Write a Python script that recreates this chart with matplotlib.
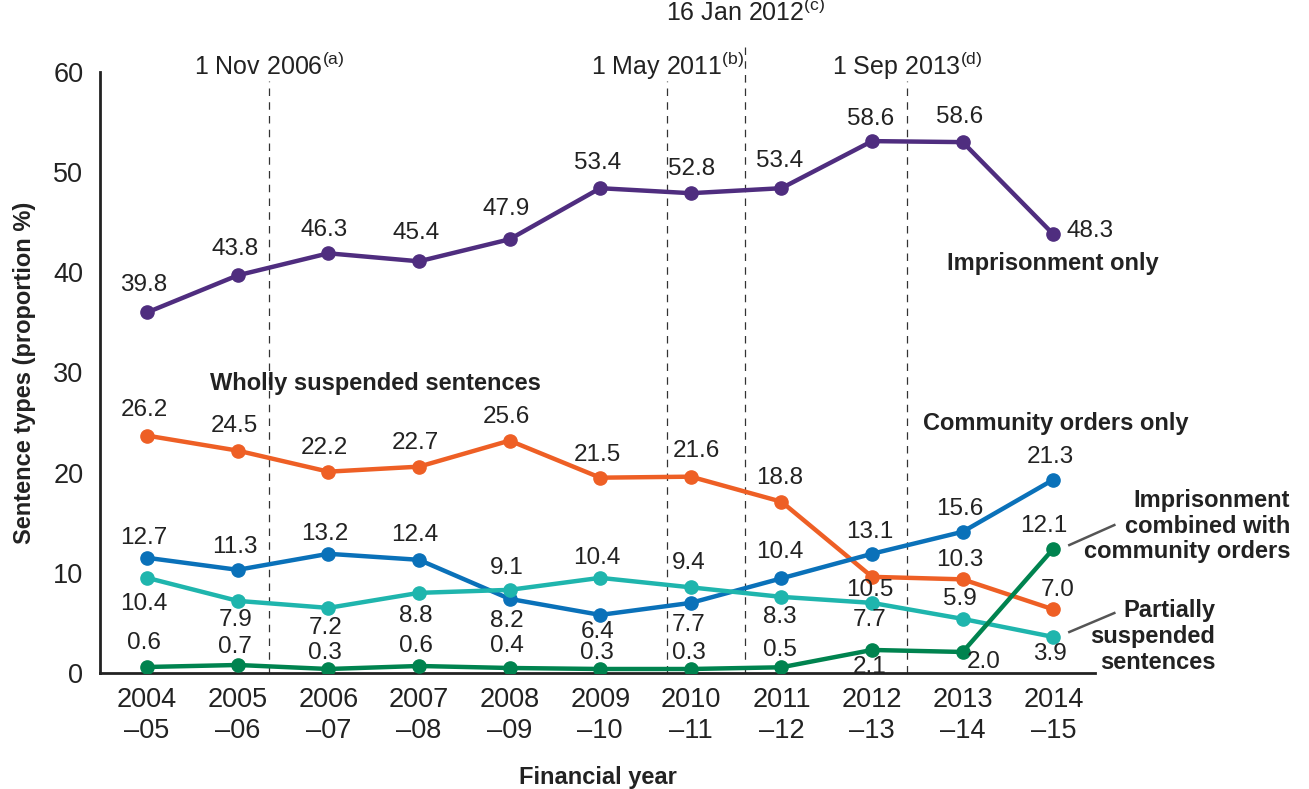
import matplotlib
matplotlib.use("Agg")
import matplotlib.pyplot as plt

plt.rcParams['font.family'] = ['Liberation Sans', 'DejaVu Sans']
plt.rcParams['mathtext.fontset'] = 'custom'
plt.rcParams['mathtext.rm'] = 'Liberation Sans'

years = ["2004\n\u201305", "2005\n\u201306", "2006\n\u201307", "2007\n\u201308", "2008\n\u201309",
         "2009\n\u201310", "2010\n\u201311", "2011\n\u201312", "2012\n\u201313", "2013\n\u201314",
         "2014\n\u201315"]

imprisonment = [36.0, 39.7, 41.9, 41.1, 43.3, 48.4, 47.9, 48.4, 53.1, 53.0, 43.8]
wholly = [23.7, 22.2, 20.1, 20.6, 23.2, 19.5, 19.6, 17.1, 9.6, 9.35, 6.35]
community = [11.5, 10.3, 11.9, 11.3, 7.4, 5.8, 7.0, 9.45, 11.9, 14.1, 19.3]
partial = [9.5, 7.2, 6.5, 8.0, 8.3, 9.5, 8.55, 7.6, 7.0, 5.4, 3.6]
combined = [0.6, 0.8, 0.4, 0.7, 0.5, 0.4, 0.4, 0.57, 2.3, 2.1, 12.4]

imprisonment_labels = ["39.8", "43.8", "46.3", "45.4", "47.9", "53.4", "52.8", "53.4", "58.6", "58.6", "48.3"]
wholly_labels = ["26.2", "24.5", "22.2", "22.7", "25.6", "21.5", "21.6", "18.8", "10.5", "10.3", "7.0"]
community_labels = ["12.7", "11.3", "13.2", "12.4", "8.2", "6.4", "7.7", "10.4", "13.1", "15.6", "21.3"]
partial_labels = ["10.4", "7.9", "7.2", "8.8", "9.1", "10.4", "9.4", "8.3", "7.7", "5.9", "3.9"]
combined_labels = ["0.6", "0.7", "0.3", "0.6", "0.4", "0.3", "0.3", "0.5", "2.1", "2.0", "12.1"]

events = ["1 Nov 2006$^{\\mathregular{(a)}}$", "1 May 2011$^{\\mathregular{(b)}}$",
          "16 Jan 2012$^{\\mathregular{(c)}}$", "1 Sep 2013$^{\\mathregular{(d)}}$"]
event_pos = [1.35, 5.74, 6.60, 8.39]

# label offsets in image pixels (dx, dy with dy positive downward)
off_imp = [(-3, -27), (-3, -26), (-4, -23), (-3, -28), (-3, -30), (-3, -25), (1, -24), (-2, -27), (-2, -22), (-3, -25), (39, -3)]
off_who = [(-3, -26), (-3, -25), (-4, -24), (-4, -24), (-3, -24), (-3, -23), (6, -26), (-2, -24), (-2, 13), (-3, -19), (4, -19)]
off_com = [(-3, -20), (-3, -23), (-4, -20), (-4, -25), (-3, 22), (-3, 17), (-2, 22), (-2, -26), (-2, -22), (-3, -23), (-3, -23)]
off_par = [(-3, 26), (-2, 19), (-3, 20), (-3, 23), (-3, -22), (-3, -20), (-2, -24), (-2, 20), (-2, 17), (-3, -20), (-3, 17)]
off_cmb = [(-3, -24), (-3, -18), (-3, -16), (-3, -20), (-3, -22), (-3, -16), (-2, -16), (-2, -17), (-2, 17), (21, 10), (-10, -23)]

c_imp = "#4F2D7F"
c_who = "#EE5F25"
c_com = "#0A71B9"
c_par = "#1FB5AD"
c_cmb = "#00834F"

W, H = 1309, 789
fig = plt.figure(figsize=(W / 100, H / 100), dpi=100)
ax = fig.add_axes([100 / W, 1 - 673 / H, (1095 - 100) / W, (673 - 72) / H])

x = list(range(len(years)))
series = [(imprisonment, imprisonment_labels, off_imp, c_imp),
          (wholly, wholly_labels, off_who, c_who),
          (community, community_labels, off_com, c_com),
          (partial, partial_labels, off_par, c_par),
          (combined, combined_labels, off_cmb, c_cmb)]

for xp in event_pos:
    ax.axvline(xp, ymin=0, ymax=0.985, color="#333333", lw=0.9, ls=(0, (6, 5)), zorder=1)

for vals, labs, offs, col in series:
    ax.plot(x, vals, color=col, lw=3.2, marker="o", ms=9.5, zorder=3, solid_capstyle="round")
    for xi, v, lab, (dx, dy) in zip(x, vals, labs, offs):
        ha = "left" if (lab == "48.3") else "center"
        ax.annotate(lab, (xi, v), xytext=(dx if ha == "center" else 13, -dy),
                    textcoords="offset pixels", ha=ha, va="center", fontsize=17.5, color="#222222", zorder=4)

# extended line for 16 Jan 2012
ax.plot([event_pos[2], event_pos[2]], [59, 62.7], color="#333333", lw=0.9, ls=(0, (6, 5)), clip_on=False)

for xp, txt in zip(event_pos, events):
    ytxt = 65.9 if txt.startswith("16") else 60.6
    ax.text(xp, ytxt, txt, ha="center", va="center", fontsize=18, color="#222222")

ax.set_xlim(-0.52, 10.46)
ax.set_ylim(0, 60)
ax.set_yticks([0, 10, 20, 30, 40, 50, 60])
ax.set_xticks(x)
ax.set_xticklabels(years, fontsize=19.5, color="#222222", linespacing=1.25)
ax.tick_params(axis="y", labelsize=19.5, labelcolor="#222222", length=0, pad=12)
ax.tick_params(axis="x", length=0, pad=10)
for s in ["top", "right"]:
    ax.spines[s].set_visible(False)
for s in ["left", "bottom"]:
    ax.spines[s].set_linewidth(2)
    ax.spines[s].set_color("#222222")

ax.set_ylabel("Sentence types (proportion %)", fontsize=17, fontweight="bold", color="#222222", labelpad=12)
ax.set_xlabel("Financial year", fontsize=17, fontweight="bold", color="#222222", labelpad=16)

bold = dict(fontsize=17, fontweight="bold", color="#222222")
ax.text(9.99, 40.9, "Imprisonment only", ha="center", va="center", **bold)
ax.text(2.52, 28.9, "Wholly suspended sentences", ha="center", va="center", **bold)
ax.text(10.03, 24.9, "Community orders only", ha="center", va="center", **bold)
ax.text((1290 - 147) / 90.6, 14.65, "Imprisonment\ncombined with\ncommunity orders",
        ha="right", va="center", linespacing=1.15, clip_on=False, **bold)
ax.text((1215 - 147) / 90.6, 3.65, "Partially\nsuspended\nsentences",
        ha="right", va="center", linespacing=1.15, clip_on=False, **bold)

# leader lines
def px2d(px, py):
    return ((px - 147) / 90.6, (673 - py) / 10.02)

for p0, p1 in [((1069, 545), (1114, 525)), ((1069, 632), (1114, 613))]:
    a = px2d(*p0); b = px2d(*p1)
    ax.plot([a[0], b[0]], [a[1], b[1]], color="#555555", lw=1.8, clip_on=False)

fig.savefig("out.png", dpi=100)
